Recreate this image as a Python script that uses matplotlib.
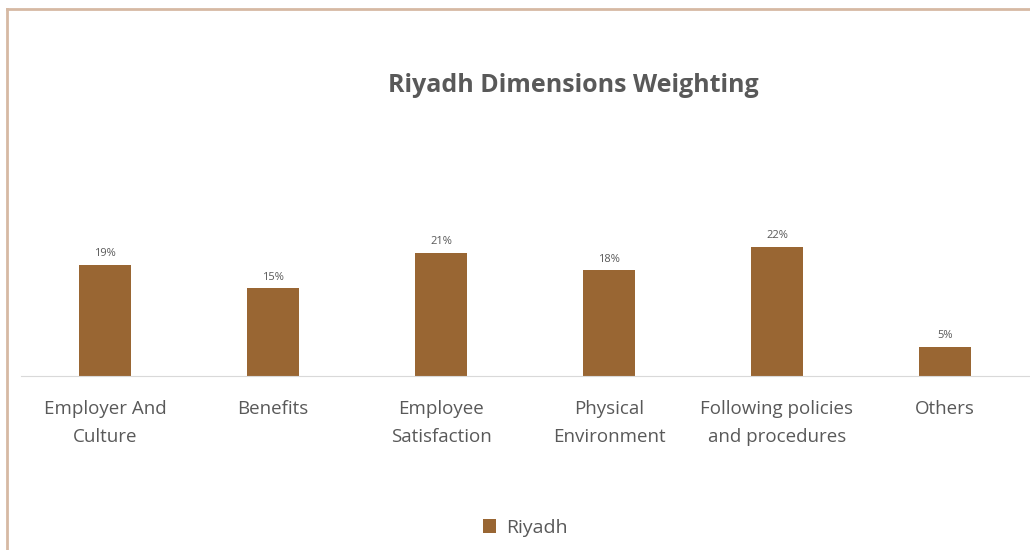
import matplotlib.pyplot as plt
from matplotlib.lines import Line2D

# Dimension weights for Riyadh (percent)
categories = ["Employer And\nCulture", "Benefits", "Employee\nSatisfaction",
              "Physical\nEnvironment", "Following policies\nand procedures", "Others"]
weights = [19, 15, 21, 18, 22, 5]
series_name = "Riyadh"

bar_color = "#996633"
text_color = "#595959"

plt.rcParams['font.family'] = ['Open Sans', 'DejaVu Sans']

fig = plt.figure(figsize=(10.3, 5.5), dpi=100)
ax = fig.add_axes([0.0204, 0.3164, 0.9786, 0.2664])

x = range(len(categories))
bars = ax.bar(x, weights, width=0.31, color=bar_color, label=series_name, zorder=2)

for rect, w in zip(bars, weights):
    ax.annotate(f"{w}%", (rect.get_x() + rect.get_width() / 2, rect.get_height()),
                xytext=(0, 4), textcoords="offset points", ha="center", va="bottom",
                fontsize=8, color=text_color)

ax.set_xlim(-0.5, len(categories) - 0.5)
ax.set_ylim(0, 25)
ax.set_xticks(list(x))
ax.set_xticklabels(categories, fontsize=13.5, color=text_color, linespacing=1.72)
ax.tick_params(axis="x", length=0, pad=17.5)
ax.set_yticks([])
for side in ("top", "right", "left"):
    ax.spines[side].set_visible(False)
ax.spines["bottom"].set_color("#d9d9d9")

fig.text(0.557, 0.845, "Riyadh Dimensions Weighting", ha="center", va="center",
         fontsize=18, fontweight="bold", color=text_color)

fig.legend(handles=[bars], labels=[series_name], loc="center", bbox_to_anchor=(0.51, 0.04),
           frameon=False, fontsize=14, labelcolor=text_color, handlelength=0.7,
           handleheight=0.7, handletextpad=0.5)

# chart frame: top and left edges
frame = "#d6b9a3"
fig.add_artist(Line2D([0.0068, 1.0], [0.9836, 0.9836], color=frame, lw=2, transform=fig.transFigure))
fig.add_artist(Line2D([0.0068, 0.0068], [0.0, 0.9836], color=frame, lw=2, transform=fig.transFigure))

fig.savefig("out.png", dpi=100, facecolor="white")
